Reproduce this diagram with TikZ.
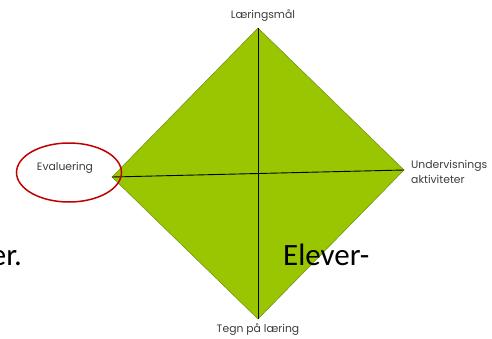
\documentclass[tikz,border=0pt]{standalone}
\usepackage{fontspec}
\usetikzlibrary{shapes.geometric}
\setmainfont{Poppins}
\newfontfamily\bigfont{Carlito}
\definecolor{dgreen}{RGB}{153,198,0}
\definecolor{dedge}{RGB}{110,140,20}
\definecolor{dred}{RGB}{192,0,0}
\definecolor{lbl}{RGB}{60,60,60}
\begin{document}
\begin{tikzpicture}[x=1pt,y=-1pt,
  lab/.style={font=\fontsize{10.8}{15}\selectfont, text=lbl, inner sep=0pt},
  big/.style={font=\bigfont\fontsize{31}{34}\selectfont, inner sep=0pt, anchor=base west}]
\useasboundingbox (0,0) rectangle (492,338);
\coordinate (T) at (258,28);
\coordinate (L) at (112,177);
\coordinate (R) at (404,170);
\coordinate (B) at (258,319);
\fill[dgreen, draw=dedge, line width=0.5pt] (T) -- (R) -- (B) -- (L) -- cycle;
\draw[black, line width=0.9pt] (T) -- (B);
\draw[black, line width=0.9pt] (L) -- (R);
\node[lab] (t) at (263,16) {Læringsmål};
\node[lab] (b) at (258,330) {Tegn på læring};
\node[lab, align=left, anchor=west] (r) at (411,172) {Undervisnings\\aktiviteter};
\node[lab] (e) at (65,168) {Evaluering};
\node[draw=dred, line width=1.5pt, ellipse, minimum width=105pt, minimum height=59pt] (ell) at (69,172.5) {};
\node[big] (el) at (283,265) {Elever-};
\node[big, anchor=base east] (er) at (22,265) {er.};
\end{tikzpicture}
\end{document}
